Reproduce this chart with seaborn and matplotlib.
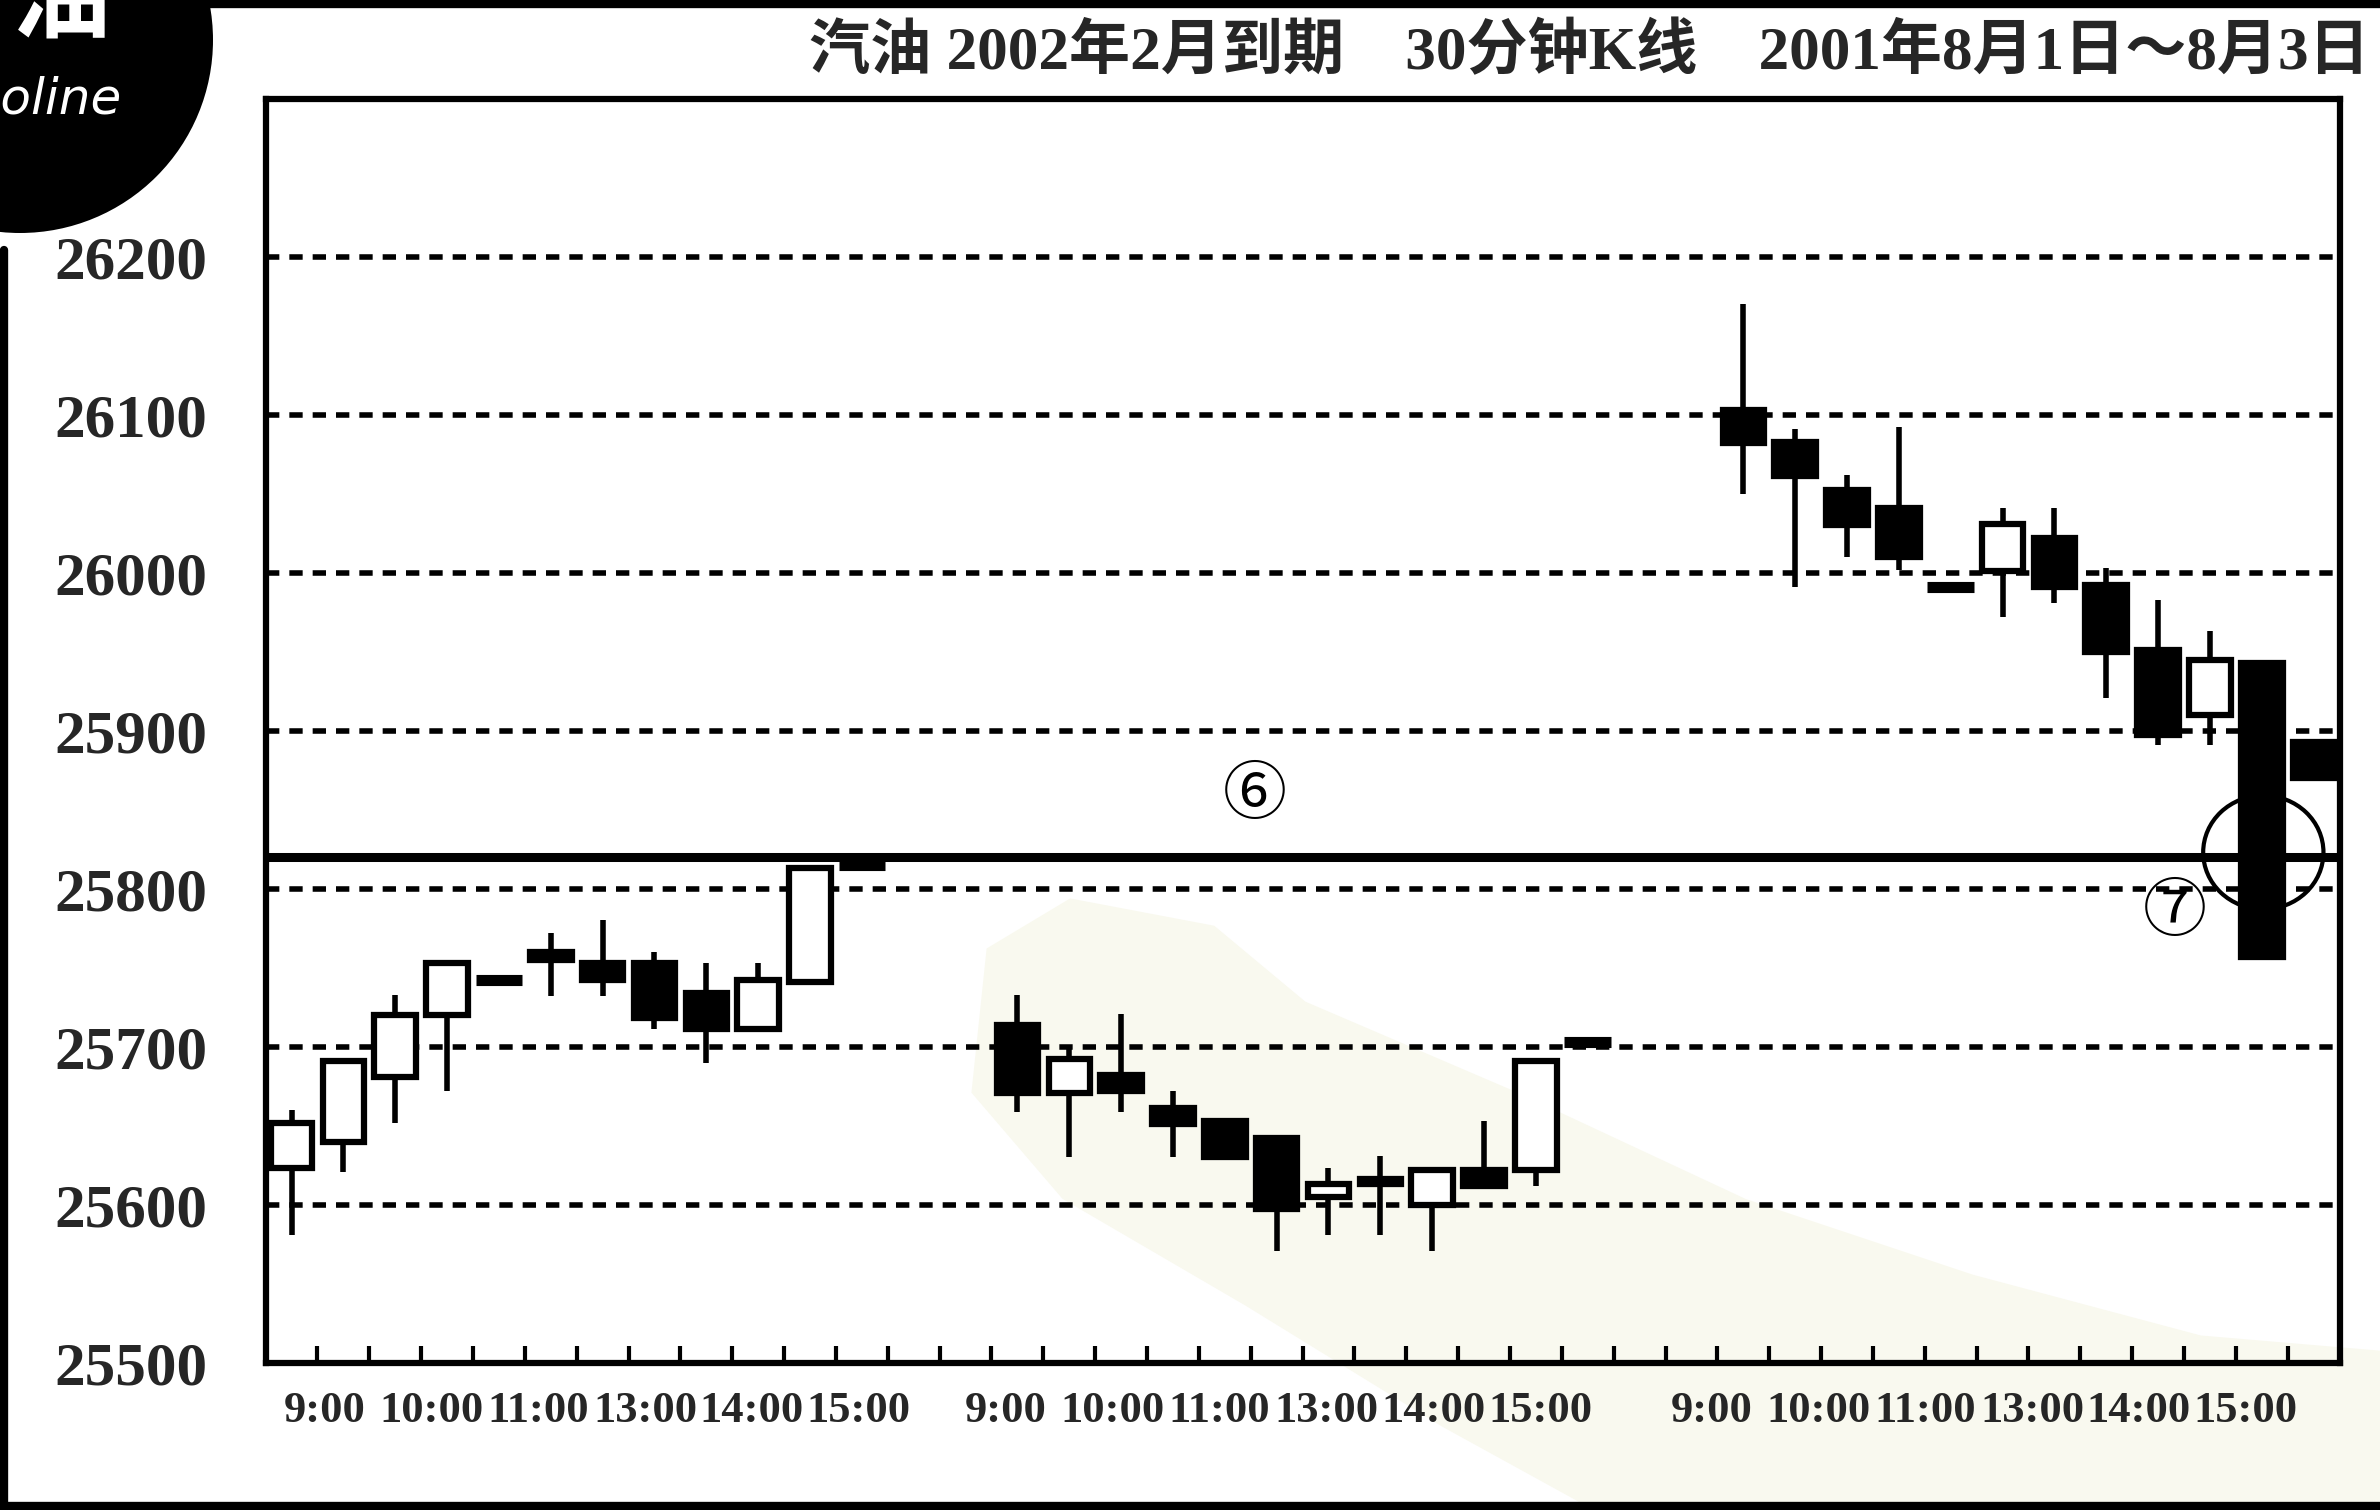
import numpy as np
import matplotlib.pyplot as plt
import seaborn as sns
from matplotlib.patches import Ellipse, Polygon
from matplotlib.lines import Line2D

# 30-minute gasoline futures bars, 2001-08-01 .. 08-03
TITLE = "汽油 2002年2月到期　30分钟K线　2001年8月1日～8月3日"
TIME_LABELS = ["9:00", "10:00", "11:00", "13:00", "14:00", "15:00"]
Y_TICKS = [25500, 25600, 25700, 25800, 25900, 26000, 26100, 26200]
GRID_LEVELS = [25600, 25700, 25800, 25900, 26000, 26100, 26200]
SUPPORT_LEVEL = 25820

day1_open = [25623, 25640, 25681, 25720, 25742, 25760, 25753, 25753, 25734, 25711, 25741, 25815]
day1_high = [25660, 25692, 25733, 25753, 25742, 25772, 25780, 25760, 25753, 25753, 25813, 25815]
day1_low = [25581, 25621, 25652, 25672, 25742, 25732, 25732, 25711, 25690, 25711, 25741, 25815]
day1_close = [25652, 25691, 25720, 25753, 25742, 25755, 25742, 25718, 25711, 25742, 25813, 25815]

day2_open = [25714, 25671, 25682, 25661, 25653, 25642, 25605, 25616, 25600, 25622, 25622, 25703]
day2_high = [25733, 25700, 25721, 25672, 25653, 25642, 25623, 25631, 25622, 25653, 25691, 25703]
day2_low = [25659, 25630, 25659, 25630, 25630, 25571, 25581, 25581, 25571, 25612, 25612, 25703]
day2_close = [25671, 25692, 25672, 25651, 25630, 25597, 25613, 25613, 25622, 25612, 25691, 25703]

day3_open = [26103, 26083, 26052, 26041, 25991, 26001, 26022, 25992, 25951, 25910, 25943, 25893]
day3_high = [26170, 26091, 26062, 26092, 25991, 26041, 26041, 26003, 25983, 25963, 25943, 25893]
day3_low = [26050, 25991, 26010, 26002, 25991, 25972, 25981, 25921, 25891, 25891, 25757, 25870]
day3_close = [26082, 26061, 26030, 26010, 25991, 26031, 25991, 25950, 25897, 25945, 25757, 25870]

sns.set_theme(style="white")
plt.rcParams["font.family"] = ["Liberation Serif", "Noto Sans CJK SC", "DejaVu Sans"]

opens = np.array(day1_open + day2_open + day3_open)
highs = np.array(day1_high + day2_high + day3_high)
lows = np.array(day1_low + day2_low + day3_low)
closes = np.array(day1_close + day2_close + day3_close)

# 12 bars per session, two empty slots between sessions
slots = np.concatenate([np.arange(12) + 14 * d for d in range(3)])

fig = plt.figure(figsize=(23.8, 15.1), dpi=100, facecolor="white")

# faint stain on the scanned page, kept behind the chart
stain = [(650, 625), (705, 592), (800, 610), (860, 660), (1000, 720), (1150, 790),
         (1300, 840), (1450, 880), (1568, 890), (1568, 995), (1050, 995), (950, 940),
         (820, 860), (700, 790), (640, 720)]
fig.patches.append(Polygon([(px / 1568, 1 - py / 995) for px, py in stain], closed=True,
                           transform=fig.transFigure, facecolor="#f9f9ef",
                           edgecolor="none", zorder=-10))

ax = fig.add_axes([0.1116, 0.0975, 0.8714, 0.8372])
ax.set_facecolor("none")
ax.set_zorder(1)

for y in GRID_LEVELS:
    ax.axhline(y, color="black", lw=4, ls=(0, (2.4, 1.8)), zorder=1)
ax.axhline(SUPPORT_LEVEL, color="black", lw=6.5, zorder=2)

ax.vlines(slots, lows, highs, color="black", lw=4, zorder=3)

width = 0.8
for x, o, c in zip(slots, opens, closes):
    if abs(c - o) < 2:
        ax.hlines(o, x - 0.45, x + 0.45, color="black", lw=8, zorder=4)
        continue
    face = "white" if c > o else "black"
    ax.bar(x, abs(c - o), bottom=min(o, c), width=width, facecolor=face,
           edgecolor="black", linewidth=4.5, zorder=4)

ax.add_patch(Ellipse((38.03, 25823), width=2.32, height=72, fill=False,
                     edgecolor="black", lw=3, zorder=5))
ax.text(18.57, 25857, "⑥", ha="center", va="center", fontsize=46, color="black")
ax.text(36.33, 25783, "⑦", ha="center", va="center", fontsize=46, color="black")

ax.set_xlim(-0.5, 39.5)
ax.set_ylim(25500, 26300)

ax.set_xticks(np.arange(39) + 0.5)
ax.set_xticklabels([])
ax.tick_params(axis="x", which="major", direction="in", length=12, width=3,
               color="black", bottom=True)
label_starts = [0.64, 13.78, 27.39]
label_pos = [s + 2.06 * k for s in label_starts for k in range(len(TIME_LABELS))]
ax.set_xticks(label_pos, minor=True)
ax.set_xticklabels(TIME_LABELS * 3, minor=True, fontsize=32, fontweight="bold")
ax.tick_params(axis="x", which="minor", length=0, pad=20)

ax.set_yticks(Y_TICKS)
ax.set_yticklabels([str(v) for v in Y_TICKS], fontsize=44, fontweight="bold")
ax.tick_params(axis="y", length=0, pad=42, left=True)

for s in ax.spines.values():
    s.set_visible(True)
    s.set_color("black")
    s.set_linewidth(4.5)

fig.text(0.34, 0.965, TITLE, ha="left", va="center", fontsize=44, fontweight="bold")

# page decoration: black badge top-left, page border lines
fig.patches.append(Ellipse((20 / 2380, 1 - 40 / 1510), 2 * 193 / 2380, 2 * 193 / 1510,
                           transform=fig.transFigure, facecolor="black", edgecolor="none"))
fig.text(60 / 2380, 1 - 30 / 1510, "油", ha="center", va="baseline", fontsize=72,
         color="white", fontweight="bold", family=["Noto Sans CJK SC"])
fig.text(122 / 2380, 1 - 100 / 1510, "Gasoline", ha="right", va="center", fontsize=36,
         color="white", style="italic", family=["DejaVu Sans"])
fig.add_artist(Line2D([200 / 2380, 1], [1 - 4 / 1510] * 2, color="black", lw=6,
                      transform=fig.transFigure))
fig.add_artist(Line2D([4 / 2380] * 2, [0, 1 - 250 / 1510], color="black", lw=6,
                      transform=fig.transFigure))
fig.add_artist(Line2D([0, 1], [4 / 1510] * 2, color="black", lw=6,
                      transform=fig.transFigure))

fig.savefig("out.png", dpi=100, facecolor="white")
